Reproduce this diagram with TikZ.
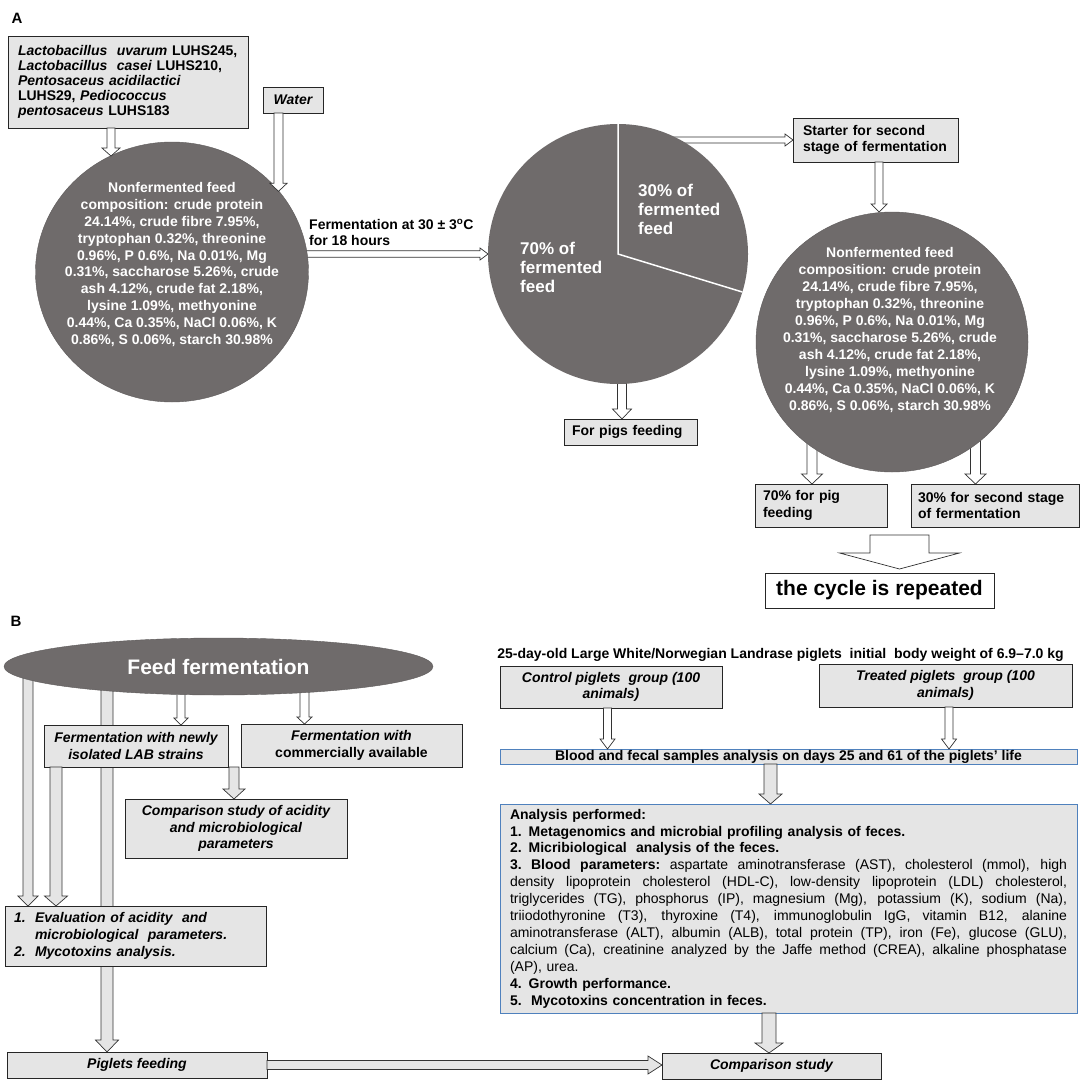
\documentclass[tikz,border=0pt]{standalone}
\usepackage{fontspec}
\setmainfont{Liberation Sans}
\usepackage{xcolor}
\usepackage{tikz}
\usetikzlibrary{shapes.geometric}
\usetikzlibrary{calc}
\usetikzlibrary{backgrounds}

\definecolor{discgray}{RGB}{111,107,107}
\definecolor{boxgray}{RGB}{229,229,229}
\definecolor{boxblue}{RGB}{79,129,189}

\tikzset{
    basefont/.style={font=\bfseries\fontsize{14}{16.5}\selectfont},
    box/.style={basefont, draw=black!85, fill=boxgray, line width=0.8pt, inner sep=0pt, outer sep=0pt},
    bluebox/.style={box, draw=boxblue},
    disc/.style={ellipse, fill=discgray, draw=discgray!85!black, line width=0.4pt, inner sep=0pt, outer sep=0pt},
    disctext/.style={font=\bfseries\fontsize{14}{16.9}\selectfont, text=white, align=center, inner sep=0pt},
    sharetext/.style={font=\bfseries\fontsize{17}{19}\selectfont, text=white, align=left, inner sep=0pt, anchor=west},
    blockarrow/.style={draw=black!80, line width=0.7pt, fill=white, line join=miter},
    greyfill/.style={fill=boxgray}
}

% hollow block arrows: [style]{start}{tip}{half shaft}{half head}{head length}
\newcommand{\vblock}[6][]{%
    \draw[blockarrow,#1] let \p1=#2, \p2=#3 in
        (\x1-#4,\y1) -- (\x1-#4,\y2+#6) -- (\x1-#5,\y2+#6) -- (\x1,\y2)
        -- (\x1+#5,\y2+#6) -- (\x1+#4,\y2+#6) -- (\x1+#4,\y1) -- cycle;}
\newcommand{\hblock}[6][]{%
    \draw[blockarrow,#1] let \p1=#2, \p2=#3 in
        (\x1,\y1+#4) -- (\x2-#6,\y1+#4) -- (\x2-#6,\y1+#5) -- (\x2,\y1)
        -- (\x2-#6,\y1-#5) -- (\x2-#6,\y1-#4) -- (\x1,\y1-#4) -- cycle;}
% one justified line of the analysis box
\newcommand{\jline}[1]{\makebox[557pt][s]{\spaceskip=0.278em plus 1fil\relax\xspaceskip=\spaceskip #1}}

\begin{document}
\begin{tikzpicture}[x=1pt, y=-1pt]
            \useasboundingbox (0,0) rectangle (1084,1092);

            %% panel A
            \node[font=\bfseries\fontsize{15}{18}\selectfont, inner sep=0pt] (labelA) at (17,18) {A};

            \node[box, text width=220pt, inner xsep=10pt, minimum height=92pt, align=left,
                font=\bfseries\fontsize{14}{15}\selectfont] (strains) at (128,82)
                {\textit{Lactobacillus\ \ uvarum} LUHS245,\\
                 \textit{Lactobacillus\ \ casei} LUHS210,\\
                 \textit{Pentosaceus acidilactici}\\
                 LUHS29, \textit{Pediococcus}\\
                 \textit{pentosaceus} LUHS183};
            \node[box, minimum width=60pt, minimum height=26pt] (water) at (293,100) {\itshape Water};

            \node[disc, minimum width=273pt, minimum height=260pt] (feedA) at (172,272) {};
            \node[disctext] (feedAtxt) at (172,264.5)
                {Nonfermented feed\\ composition: crude protein\\ 24.14\%, crude fibre 7.95\%,\\
                 tryptophan 0.32\%, threonine\\ 0.96\%, P 0.6\%, Na 0.01\%, Mg\\
                 0.31\%, saccharose 5.26\%, crude\\ ash 4.12\%, crude fat 2.18\%,\\
                 lysine 1.09\%, methyonine\\ 0.44\%, Ca 0.35\%, NaCl 0.06\%, K\\
                 0.86\%, S 0.06\%, starch 30.98\%};

            \node[basefont, align=left, anchor=west, inner sep=0pt] (fermlabel) at (309,232.5)
                {Fermentation at 30 ± 3\textsuperscript{o}C\\ for 18 hours};

            \node[circle, fill=discgray, minimum size=260pt, inner sep=0pt, outer sep=0pt] (pie) at (618,254) {};
            \draw[white, line width=1.5pt] (pie.north) -- (pie.center) -- (pie.-17.5);
            \node[sharetext] (share30) at (638,209) {30\% of\\ fermented\\ feed};
            \node[sharetext] (share70) at (520,267) {70\% of\\ fermented\\ feed};

            \node[box, text width=145pt, inner xsep=10pt, minimum height=44pt, align=left] (starter) at (875.5,140)
                {Starter for second\\ stage of fermentation};
            \node[box, text width=117pt, inner xsep=8pt, minimum height=26pt, align=left] (pigs) at (630.5,432)
                {For pigs feeding};

            \node[disc, minimum width=272pt, minimum height=260pt] (feedB) at (892,342) {};
            \node[disctext] (feedBtxt) at (890,330)
                {Nonfermented feed\\ composition: crude protein\\ 24.14\%, crude fibre 7.95\%,\\
                 tryptophan 0.32\%, threonine\\ 0.96\%, P 0.6\%, Na 0.01\%, Mg\\
                 0.31\%, saccharose 5.26\%, crude\\ ash 4.12\%, crude fat 2.18\%,\\
                 lysine 1.09\%, methyonine\\ 0.44\%, Ca 0.35\%, NaCl 0.06\%, K\\
                 0.86\%, S 0.06\%, starch 30.98\%};

            \node[box, text width=116pt, inner xsep=8pt, minimum height=43pt, align=left] (pig70) at (821,505.5)
                {70\% for pig\\ feeding};
            \node[box, text width=154pt, inner xsep=7pt, minimum height=43pt, align=left] (second30) at (995,505.5)
                {30\% for second stage\\ of fermentation};
            \node[box, fill=white, minimum width=229pt, minimum height=35pt,
                font=\bfseries\fontsize{21}{25}\selectfont] (cycle) at (879.5,590.5) {the cycle is repeated};
            \coordinate (loopS) at (899.5,535);
            \coordinate (loopE) at (899.5,569);

            \vblock{(111,0 |- strains.south)}{(feedA.118)}{4}{9}{8}
            \vblock{(278.5,0 |- water.south)}{(feedA.37)}{4.5}{8.5}{8}
            \vblock{(879,0 |- starter.south)}{(feedB.north)}{4}{8}{8}
            \vblock{(loopS)}{(loopE)}{29.5}{60}{16}
            \begin{pgfonlayer}{background}
                \hblock{(feedA.center |- pie.west)}{(pie.west)}{3.2}{6}{8}
                \hblock{(pie.center |- starter.west)}{(starter.west)}{3}{6}{8}
                \vblock{(622,0 |- pie.center)}{(622,0 |- pigs.north)}{4.5}{9.5}{10}
                \vblock{(812,0 |- feedB.center)}{(812,0 |- pig70.north)}{5}{10.5}{10}
                \vblock{(975.5,0 |- feedB.center)}{(975.5,0 |- second30.north)}{5}{10.5}{10}
            \end{pgfonlayer}

            %% panel B
            \node[font=\bfseries\fontsize{15}{18}\selectfont, inner sep=0pt] (labelB) at (16,621) {B};

            \node[disc, minimum width=429pt, minimum height=57pt, text=white,
                font=\bfseries\fontsize{21}{25}\selectfont] (ferm) at (218.5,666.5) {Feed fermentation};
            \node[box, minimum width=184pt, minimum height=42pt, align=center,
                font=\bfseries\itshape\fontsize{14}{16.5}\selectfont] (newly) at (136,746)
                {Fermentation with newly\\ isolated LAB strains};
            \node[box, minimum width=221pt, minimum height=43pt, align=center] (commercial) at (351.5,745.5)
                {\itshape Fermentation with\\ commercially available};
            \node[box, minimum width=222pt, minimum height=59pt, align=center,
                font=\bfseries\itshape\fontsize{14}{16.5}\selectfont] (compare) at (236,828.5)
                {Comparison study of acidity\\ and microbiological\\ parameters};
            \node[box, text width=244pt, inner xsep=8.5pt, minimum height=60pt, align=left,
                font=\bfseries\itshape\fontsize{14}{17}\selectfont] (eval) at (136,936)
                {\makebox[21pt][l]{1.}Evaluation of acidity\ \ and\\
                 \hspace*{21pt}microbiological\ \ parameters.\\
                 \makebox[21pt][l]{2.}Mycotoxins analysis.};
            \node[box, minimum width=260pt, minimum height=26pt, font=\bfseries\itshape\fontsize{14}{16.5}\selectfont]
                (piglets) at (137,1065) {Piglets feeding};
            \node[box, minimum width=219pt, minimum height=26pt, font=\bfseries\itshape\fontsize{14}{16.5}\selectfont]
                (compstudy) at (771.5,1066) {Comparison study};

            \node[basefont, inner sep=0pt] (cohort) at (780.5,655)
                {25-day-old Large White/Norwegian Landrase piglets\ \ initial\ \ body weight of 6.9–7.0 kg};
            \node[box, minimum width=222pt, minimum height=42pt, align=center,
                font=\bfseries\itshape\fontsize{14}{16.5}\selectfont] (control) at (611,687)
                {Control piglets\ \ group (100\\ animals)};
            \node[box, minimum width=253pt, minimum height=43pt, align=center,
                font=\bfseries\itshape\fontsize{14}{16.5}\selectfont] (treated) at (945.5,685.5)
                {Treated piglets\ \ group (100\\ animals)};
            \node[bluebox, minimum width=577pt, minimum height=15pt] (blood) at (788.5,756.5)
                {Blood and fecal samples analysis on days 25 and 61 of the piglets’ life};
            \node[bluebox, text width=557pt, inner xsep=10pt, minimum height=209pt, align=left,
                font=\fontsize{14}{16.9}\selectfont] (analysis) at (788.5,908.5)
                {\textbf{Analysis performed:}\\
                 \textbf{1. Metagenomics and microbial profiling analysis of feces.}\\
                 \textbf{2. Micribiological\ \ analysis of the feces.}\\
                 \jline{\textbf{3. Blood parameters:} aspartate aminotransferase (AST), cholesterol (mmol), high}\\
                 \jline{density lipoprotein cholesterol (HDL-C), low-density lipoprotein (LDL) cholesterol,}\\
                 \jline{triglycerides (TG), phosphorus (IP), magnesium (Mg), potassium (K), sodium (Na),}\\
                 \jline{triiodothyronine (T3), thyroxine (T4), immunoglobulin IgG, vitamin B12, alanine}\\
                 \jline{aminotransferase (ALT), albumin (ALB), total protein (TP), iron (Fe), glucose (GLU),}\\
                 \jline{calcium (Ca), creatinine analyzed by the Jaffe method (CREA), alkaline phosphatase}\\
                 (AP), urea.\\
                 \textbf{4. Growth performance.}\\
                 \textbf{5.\ \ Mycotoxins concentration in feces.}};

            \vblock[greyfill]{(56,0 |- newly.south)}{(56,0 |- eval.north)}{6}{11.5}{10}
            \vblock[greyfill]{(234,0 |- newly.south)}{(234,0 |- compare.north)}{5}{11}{10}
            \vblock{(607.5,0 |- control.south)}{(607.5,0 |- blood.north)}{4}{7.5}{10}
            \vblock{(949,0 |- treated.south)}{(949,0 |- blood.north)}{4}{7.5}{10}
            \vblock[greyfill]{(770.5,0 |- blood.south)}{(770.5,0 |- analysis.north)}{6.5}{11.5}{10}
            \vblock[greyfill]{(769,0 |- analysis.south)}{(769,0 |- compstudy.north)}{7}{14}{10}
            \hblock[greyfill]{(piglets.east)}{(compstudy.west)}{4.5}{9}{14}
            \begin{pgfonlayer}{background}
                \vblock{(181,0 |- ferm.center)}{(181,0 |- newly.north)}{4}{7}{7}
                \vblock{(304.5,0 |- ferm.center)}{(304.5,0 |- commercial.north)}{4.5}{7.5}{7}
                \vblock[greyfill]{(28,0 |- ferm.center)}{(28,0 |- eval.north)}{5}{10}{10}
                \vblock[greyfill]{(107,0 |- ferm.center)}{(107,0 |- piglets.north)}{6}{11.5}{12}
            \end{pgfonlayer}
\end{tikzpicture}
\end{document}
